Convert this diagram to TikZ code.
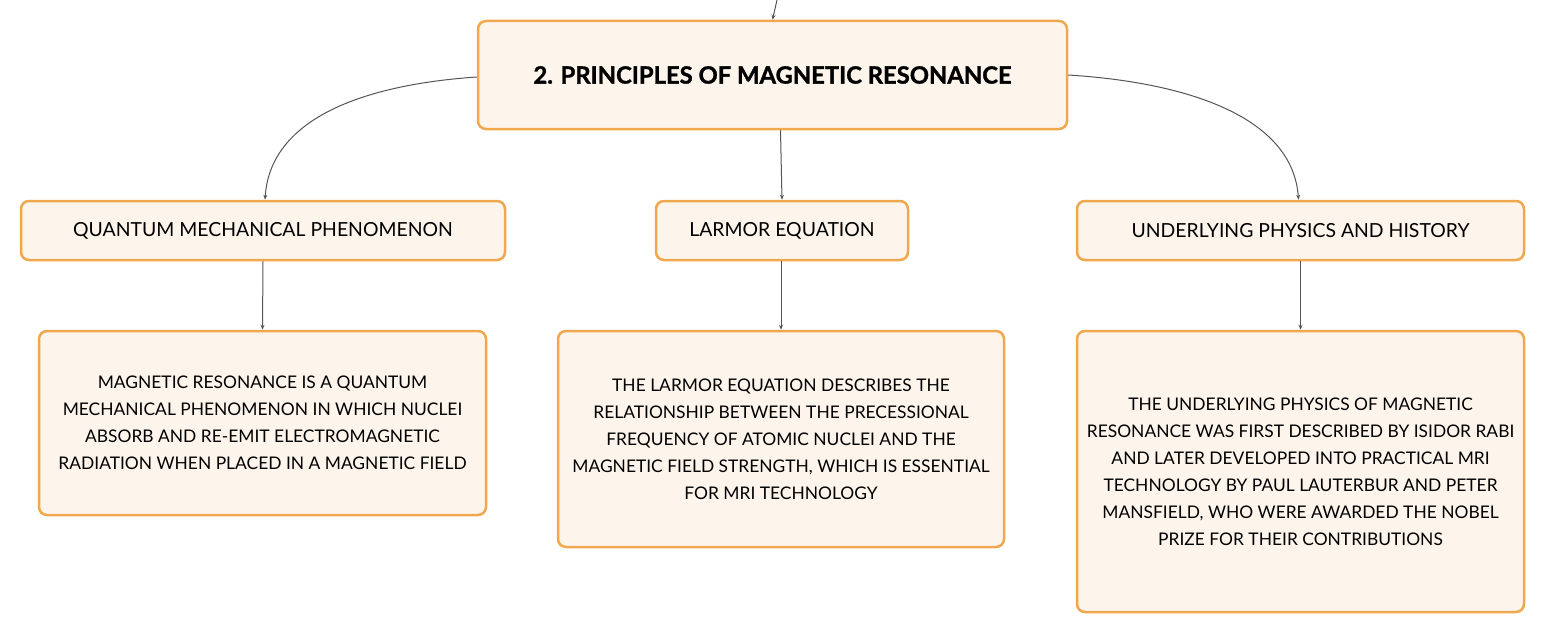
\documentclass[tikz,border=0pt]{standalone}
\usepackage{fontspec}
\setmainfont{Lato}[BoldFeatures={FakeBold=1.3}]
\usetikzlibrary{arrows.meta}
\definecolor{boxfill}{HTML}{FDF5EC}
\definecolor{boxline}{HTML}{F0A84E}
\definecolor{conn}{HTML}{555555}
\tikzset{
  card/.style={draw=boxline, fill=boxfill, line width=2.5pt, rounded corners=8pt,
    align=center, inner sep=0pt, text=black},
  titlecard/.style={card, font=\fontsize{23.8}{28}\selectfont\bfseries},
  labelcard/.style={card, font=\fontsize{19.4}{24}\selectfont},
  textcard/.style={card, font=\fontsize{17.4}{27}\selectfont},
  link/.style={draw=conn, line width=1pt, -{Stealth[length=5pt,width=4pt]}}
}
\begin{document}
\begin{tikzpicture}[x=1pt,y=1pt]
\useasboundingbox (0,0) rectangle (1545,-634);
\node[titlecard, minimum width=589pt, minimum height=108pt] (top) at (772.5,-75) {2. PRINCIPLES OF MAGNETIC RESONANCE};
\node[labelcard, minimum width=484pt, minimum height=59pt] (q) at (263,-230.5) {QUANTUM MECHANICAL PHENOMENON};
\node[labelcard, minimum width=252pt, minimum height=59pt] (l) at (782,-230.5) {LARMOR EQUATION};
\node[labelcard, minimum width=447pt, minimum height=59pt] (u) at (1300.5,-230.5) {UNDERLYING PHYSICS AND HISTORY};
\node[textcard, minimum width=447pt, minimum height=184pt] (qd) at (262.5,-423) {MAGNETIC RESONANCE IS A QUANTUM\\MECHANICAL PHENOMENON IN WHICH NUCLEI\\ABSORB AND RE-EMIT ELECTROMAGNETIC\\RADIATION WHEN PLACED IN A MAGNETIC FIELD};
\node[textcard, minimum width=446pt, minimum height=216pt] (ld) at (781,-439) {THE LARMOR EQUATION DESCRIBES THE\\RELATIONSHIP BETWEEN THE PRECESSIONAL\\FREQUENCY OF ATOMIC NUCLEI AND THE\\MAGNETIC FIELD STRENGTH, WHICH IS ESSENTIAL\\FOR MRI TECHNOLOGY};
\node[textcard, minimum width=447pt, minimum height=281pt] (ud) at (1300.5,-471.5) {THE UNDERLYING PHYSICS OF MAGNETIC\\RESONANCE WAS FIRST DESCRIBED BY ISIDOR RABI\\AND LATER DEVELOPED INTO PRACTICAL MRI\\TECHNOLOGY BY PAUL LAUTERBUR AND PETER\\MANSFIELD, WHO WERE AWARDED THE NOBEL\\PRIZE FOR THEIR CONTRIBUTIONS};
\coordinate (src) at (777,0);
\draw[link] (src) -- (top.north);
\draw[link] ([xshift=8pt]top.south) -- (l.north);
\draw[link] ([yshift=-2pt]top.west) .. controls (360,-85) and (270,-120) .. ([xshift=2pt]q.north);
\draw[link] (top.east) .. controls (1195,-83) and (1293,-120) .. ([xshift=-2pt]u.north);
\draw[link] (q.south) -- (qd.north);
\draw[link] ([xshift=-1pt]l.south) -- (ld.north);
\draw[link] (u.south) -- (ud.north);
\end{tikzpicture}
\end{document}
